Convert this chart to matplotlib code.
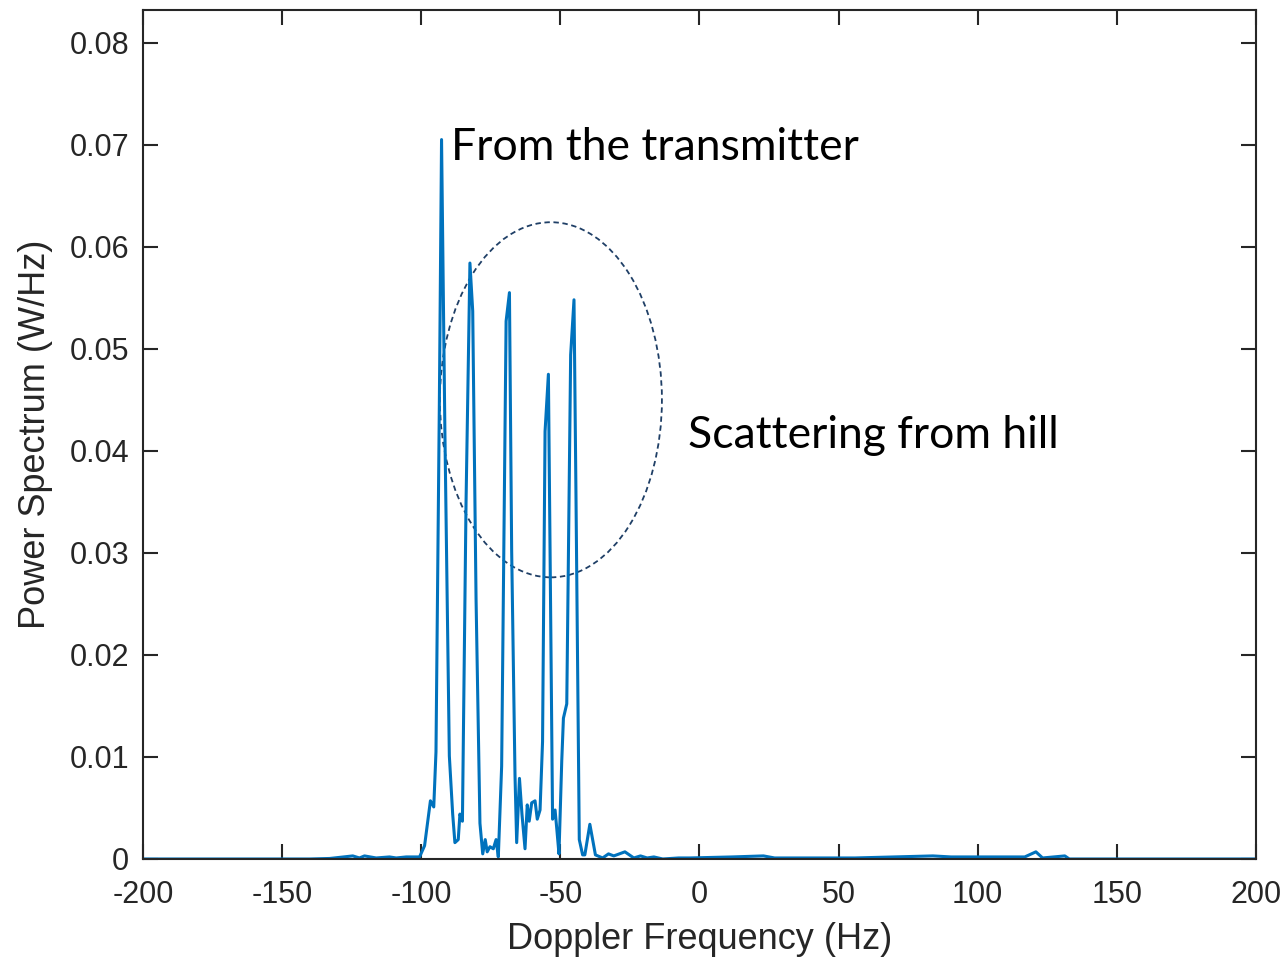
import matplotlib
matplotlib.use("Agg")
import matplotlib.pyplot as plt
from matplotlib.patches import Ellipse

plt.rcParams['axes.unicode_minus'] = False
plt.rcParams['font.family'] = ['Liberation Sans', 'DejaVu Sans']

# Doppler spectrum
freq = [-200, -140, -132.9, -124.6, -122.2, -120.4, -116.2, -111.4, -109, -105.4,
        -100.6, -98.8, -96.7, -95.5, -94.7, -93.5, -92.7, -91.5, -89.9, -88.7,
        -87.9, -86.7, -86.1, -85.2, -83.9, -82.5, -81.5, -80.3, -78.9, -77.9,
        -77.0, -76.3, -75.3, -74.1, -73.1, -72.3, -71.1, -69.5, -68.3, -67.5,
        -66.3, -65.7, -64.7, -63.8, -62.7, -61.9, -61.2, -60.3, -59.1, -58.3,
        -57.3, -56.4, -55.5, -54.3, -53.7, -52.8, -51.9, -51.3, -50.5, -49.5,
        -48.9, -47.7, -46.3, -45.1, -44.4, -43.2, -42.0, -41.2, -39.4, -37.4,
        -34.8, -32.7, -30.8, -26.8, -23.6, -21.2, -18.8, -16.4, -13.2, -7.5,
        -3.5, 11.7, 23, 27, 55.9, 83.9, 90.4, 110.4, 116.9, 120.9,
        123.3, 131.3, 132.9, 200]
power = [0, 0, 0.00005, 0.0003, 0.0001, 0.0003, 0.0001, 0.0002, 0.0001, 0.0002,
         0.0002, 0.0013, 0.0057, 0.0051, 0.0105, 0.0443, 0.0705, 0.0419, 0.0101, 0.0044,
         0.0016, 0.0019, 0.0044, 0.0037, 0.0349, 0.0584, 0.0537, 0.0255, 0.0035, 0.0005,
         0.0019, 0.0007, 0.0012, 0.0010, 0.0019, 0.0002, 0.0091, 0.0527, 0.0555, 0.0302,
         0.0082, 0.0016, 0.0079, 0.0044, 0.0010, 0.0053, 0.0037, 0.0055, 0.0057, 0.0039,
         0.0048, 0.0115, 0.0419, 0.0475, 0.0302, 0.0039, 0.0048, 0.0030, 0.0005, 0.0096,
         0.0138, 0.0152, 0.0494, 0.0548, 0.0360, 0.0019, 0.0004, 0.0004, 0.0034, 0.0004,
         0.0001, 0.0005, 0.0003, 0.0007, 0.0001, 0.0003, 0.0001, 0.0002, 0, 0.0001,
         0.0001, 0.0002, 0.0003, 0.0001, 0.0001, 0.0003, 0.0002, 0.0002, 0.0002, 0.0007,
         0.0001, 0.0003, 0, 0]

xticks = [-200, -150, -100, -50, 0, 50, 100, 150, 200]
yticks = [0, 0.01, 0.02, 0.03, 0.04, 0.05, 0.06, 0.07, 0.08]

fig = plt.figure(figsize=(12.87, 9.59), dpi=100)
ax = fig.add_axes([0.1111, 0.1043, 0.8648, 0.8853])
ax.plot(freq, power, color='#0072BD', lw=2.2)

ax.add_patch(Ellipse((-53.4, 0.0450), 79.8, 0.0348, fill=False,
                     ec='#1f3f66', ls=(0, (3, 2)), lw=1.3))

ax.text(-89.3, 0.0697, 'From the transmitter', fontsize=32, family='Lato',
        va='center', ha='left')
ax.text(-4.1, 0.0415, 'Scattering from hill', fontsize=32, family='Lato',
        va='center', ha='left')

ax.set_xlim(-200, 200)
ax.set_ylim(0, 0.0832)
ax.set_xticks(xticks)
ax.set_yticks(yticks)
ax.set_xticklabels([str(t) for t in xticks])
ax.set_yticklabels(['0'] + ['%.2f' % t for t in yticks[1:]])
ax.tick_params(direction='in', top=True, right=True, length=11, width=1.5,
               labelsize=22, colors='#262626')
ax.tick_params(axis='x', pad=15)
ax.tick_params(axis='y', pad=10)
for s in ax.spines.values():
    s.set_linewidth(1.5)
    s.set_color('#262626')
ax.set_xlabel('Doppler Frequency (Hz)', fontsize=26, color='#262626', labelpad=9)
ax.set_ylabel('Power Spectrum (W/Hz)', fontsize=26, color='#262626', labelpad=12)

fig.savefig('out.png', dpi=100)
